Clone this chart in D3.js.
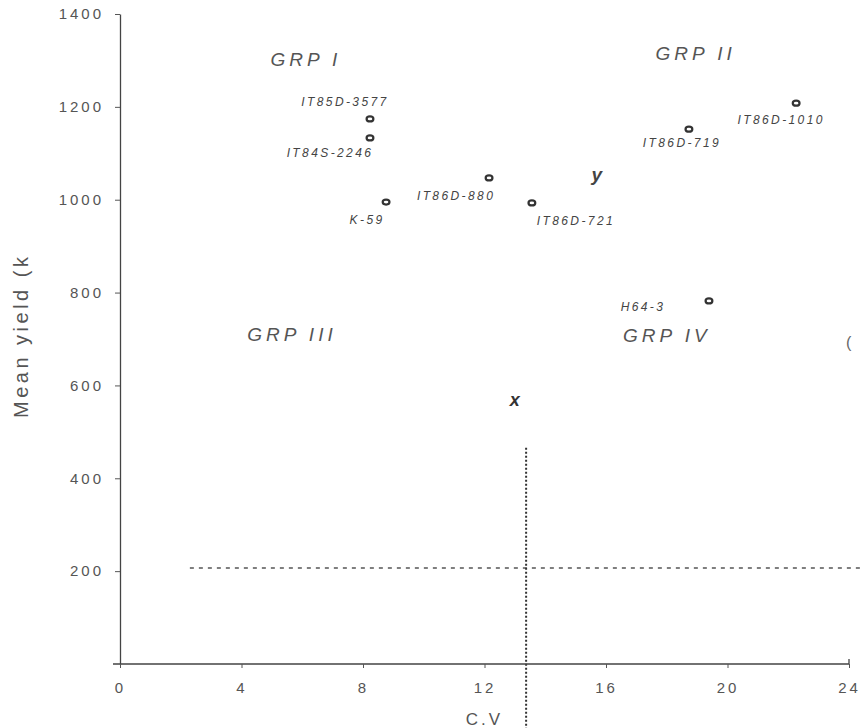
<!DOCTYPE html>
<html>
<head>
<meta charset="utf-8">
<script src="https://cdn.jsdelivr.net/npm/d3@7"></script>
<style>
  body { margin: 0; background: #fff; }
  svg { display: block; font-family: "Liberation Sans", Arial, sans-serif; }
</style>
</head>
<body>
<svg id="chart" width="862" height="728"></svg>
<script>
// data
const genotypes = ['IT85D-3577', 'IT84S-2246', 'K-59', 'IT86D-880', 'IT86D-721', 'IT86D-719', 'IT86D-1010', 'H64-3'];
const cvValues = [8.23, 8.23, 8.76, 12.15, 13.56, 18.73, 22.26, 19.39];
const yieldValues = [1174, 1133, 995, 1047, 993, 1152, 1208, 782];
const meanCV = 13.37;
const meanYield = 207;
const xTicks = [0, 4, 8, 12, 16, 20, 24];
const yTicks = [200, 400, 600, 800, 1000, 1200, 1400];
const groupNames = ['GRP I', 'GRP II', 'GRP III', 'GRP IV'];

// annotation placement (layout only)
const labelOffsets = {
  'IT85D-3577': [-25, -13], 'IT84S-2246': [-40, 19], 'K-59': [-19, 22],
  'IT86D-880': [-33, 22], 'IT86D-721': [44, 22], 'IT86D-719': [-7, 18],
  'IT86D-1010': [-15, 21], 'H64-3': [-66, 10]
};
const groupPos = { 'GRP I': [6.12, 1288], 'GRP II': [18.95, 1301], 'GRP III': [5.66, 695], 'GRP IV': [18.0, 693] };

const svg = d3.select('#chart');
const x = d3.scaleLinear().domain([0, 24]).range([120, 849]);
const y = d3.scaleLinear().domain([0, 1400]).range([664, 14]);

// mean lines
svg.append('line')
  .attr('x1', x(2.3)).attr('x2', 862)
  .attr('y1', y(meanYield)).attr('y2', y(meanYield))
  .attr('stroke', '#555').attr('stroke-width', 1.5)
  .attr('stroke-dasharray', '4,5');
svg.append('line')
  .attr('x1', x(meanCV)).attr('x2', x(meanCV))
  .attr('y1', y(466)).attr('y2', 728)
  .attr('stroke', '#333').attr('stroke-width', 2)
  .attr('stroke-dasharray', '2,2');

// axes
const yAxis = svg.append('g')
  .attr('transform', `translate(${x(0)},0)`)
  .call(d3.axisLeft(y).tickValues(yTicks).tickFormat(d3.format('d'))
    .tickSize(5).tickPadding(11).tickSizeOuter(0));
const xAxis = svg.append('g')
  .attr('transform', `translate(0,${y(0)})`)
  .call(d3.axisBottom(x).tickValues(xTicks).tickFormat(d3.format('d'))
    .tickSize(4).tickPadding(14).tickSizeOuter(0));

[yAxis, xAxis].forEach(g => {
  g.select('.domain').attr('stroke', '#444').attr('stroke-width', 1.3);
  g.selectAll('.tick line').attr('stroke', '#555');
  g.selectAll('.tick text')
    .attr('fill', '#555')
    .style('font-size', '15px')
    .style('letter-spacing', '3px')
    .style('font-family', '"Liberation Sans", Arial, sans-serif');
});
xAxis.select('.domain').attr('d', `M${x(0) - 7},0H${x(24)}V-5`);

// axis titles
svg.append('text')
  .attr('x', x(12)).attr('y', 725)
  .attr('text-anchor', 'middle')
  .attr('fill', '#555')
  .style('font-size', '17px').style('letter-spacing', '3px')
  .text('C.V');
svg.append('text')
  .attr('transform', 'translate(28,418) rotate(-90)')
  .attr('fill', '#555')
  .style('font-size', '20px').style('letter-spacing', '3.5px')
  .text('Mean yield (k');

// group labels
svg.append('g').selectAll('text')
  .data(groupNames)
  .join('text')
  .attr('x', d => x(groupPos[d][0]))
  .attr('y', d => y(groupPos[d][1]))
  .attr('text-anchor', 'middle')
  .attr('fill', '#555')
  .style('font-size', '19px').style('font-style', 'italic').style('letter-spacing', '4px')
  .text(d => d);

// x / y markers
svg.append('text')
  .attr('x', x(15.7)).attr('y', y(1040))
  .attr('text-anchor', 'middle').attr('fill', '#444')
  .style('font-size', '19px').style('font-style', 'italic').style('font-weight', 'bold')
  .text('y');
svg.append('text')
  .attr('x', x(13.0)).attr('y', y(556))
  .attr('text-anchor', 'middle').attr('fill', '#333')
  .style('font-size', '18px').style('font-style', 'italic').style('font-weight', 'bold')
  .text('x');
svg.append('text')
  .attr('x', x(23.9)).attr('y', y(680))
  .attr('fill', '#666').style('font-size', '16px')
  .text('(');

// points
const points = genotypes.map((g, i) => ({ name: g, cv: cvValues[i], yld: yieldValues[i] }));
svg.append('g').selectAll('ellipse')
  .data(points)
  .join('ellipse')
  .attr('cx', d => x(d.cv))
  .attr('cy', d => y(d.yld))
  .attr('rx', 3.4).attr('ry', 2.5)
  .attr('fill', '#fff')
  .attr('stroke', '#333')
  .attr('stroke-width', 2.2);

svg.append('g').selectAll('text')
  .data(points)
  .join('text')
  .attr('x', d => x(d.cv) + labelOffsets[d.name][0])
  .attr('y', d => y(d.yld) + labelOffsets[d.name][1])
  .attr('text-anchor', 'middle')
  .attr('fill', '#444')
  .style('font-size', '12px').style('font-style', 'italic').style('letter-spacing', '2.4px')
  .text(d => d.name);
</script>
</body>
</html>
